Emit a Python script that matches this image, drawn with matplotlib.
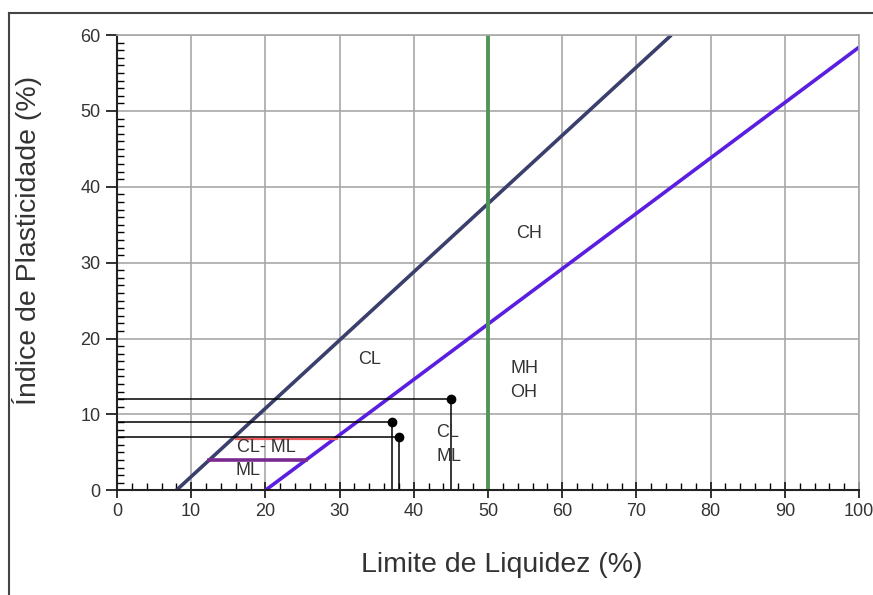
import numpy as np
import matplotlib
matplotlib.use('Agg')
import matplotlib.pyplot as plt
from matplotlib.lines import Line2D
from matplotlib.ticker import MultipleLocator

plt.rcParams['font.family'] = ['Liberation Sans', 'DejaVu Sans']

# Casagrande plasticity chart
u_line_ll = [8, 74.7]
u_line_pi = [0, 60]
a_line_ll = [20, 100]
a_line_pi = [0, 58.4]
ll_limit = 50

# CL-ML band boundaries
clml_ll = [16.0, 29.6]
clml_pi = [6.75, 6.75]
ml_ll = [12.4, 25.5]
ml_pi = [4, 4]

# samples (LL, PI)
sample_ll = [45, 37, 38]
sample_pi = [12, 9, 7]

zone_labels = ["CH", "CL", "MH\nOH", "CL\nML", "CL- ML", "ML"]
zone_ll = [53.8, 32.5, 53.0, 43.0, 20.1, 16.0]
zone_pi = [33.8, 17.2, 14.5, 6.0, 5.7, 2.6]
zone_ha = ['left', 'left', 'left', 'left', 'center', 'left']

fig = plt.figure(figsize=(8.73, 5.95), dpi=100)
ax = fig.add_axes([0.134, 0.176, 0.850, 0.765])

ax.set_xlim(0, 100)
ax.set_ylim(0, 60)
ax.xaxis.set_major_locator(MultipleLocator(10))
ax.xaxis.set_minor_locator(MultipleLocator(2))
ax.yaxis.set_major_locator(MultipleLocator(10))
ax.yaxis.set_minor_locator(MultipleLocator(1))
ax.grid(True, which='major', color='#a8a8a8', linewidth=1.2)
ax.set_axisbelow(True)

for side in ['top', 'right']:
    ax.spines[side].set_color('#a8a8a8')
    ax.spines[side].set_linewidth(1.2)
for side in ['left', 'bottom']:
    ax.spines[side].set_color('#222222')
    ax.spines[side].set_linewidth(1.5)

ax.tick_params(axis='x', which='major', direction='inout', length=11, width=1.3,
               labelsize=13, colors='#222222', labelcolor='#333333', pad=4)
ax.tick_params(axis='x', which='minor', direction='in', length=5, width=1)
ax.tick_params(axis='y', which='major', direction='out', length=8, width=1.3,
               labelsize=13, colors='#222222', labelcolor='#333333', pad=4)
ax.tick_params(axis='y', which='minor', direction='in', length=5, width=1)

ax.plot(u_line_ll, u_line_pi, color='#3b3f6b', linewidth=2.6, solid_capstyle='butt')
ax.plot(a_line_ll, a_line_pi, color='#5a1ee0', linewidth=2.6, solid_capstyle='butt')
ax.axvline(ll_limit, color='#4f9656', linewidth=2.8)
ax.plot(clml_ll, clml_pi, color='#f05a5a', linewidth=1.6)
ax.plot(ml_ll, ml_pi, color='#7a2a8e', linewidth=2.6)

for ll, pi in zip(sample_ll, sample_pi):
    ax.plot([0, ll], [pi, pi], color='black', linewidth=1.1)
    ax.plot([ll, ll], [0, pi], color='black', linewidth=1.1)
ax.plot(sample_ll, sample_pi, 'o', color='black', markersize=6)

for txt, x, y, ha in zip(zone_labels, zone_ll, zone_pi, zone_ha):
    ax.text(x, y, txt, ha=ha, va='center', fontsize=13, color='#333333',
            linespacing=1.55)

ax.set_xlabel("Limite de Liquidez (%)", fontsize=20.5, color='#333333')
ax.set_ylabel("Índice de Plasticidade (%)", fontsize=20.5, color='#333333')
ax.xaxis.set_label_coords((502 - 117) / 742, -(565 - 490) / 455)
ax.yaxis.set_label_coords(-(117 - 27) / 742, (490 - 240) / 455)
ax.xaxis.label.set_va('center')
ax.yaxis.label.set_va('center')

# outer frame
fig.add_artist(Line2D([9 / 873, 1], [1 - 13 / 595] * 2, color='#444444', linewidth=1.5))
fig.add_artist(Line2D([9 / 873] * 2, [0, 1 - 13 / 595], color='#444444', linewidth=1.5))

fig.savefig("out.png", dpi=100)
